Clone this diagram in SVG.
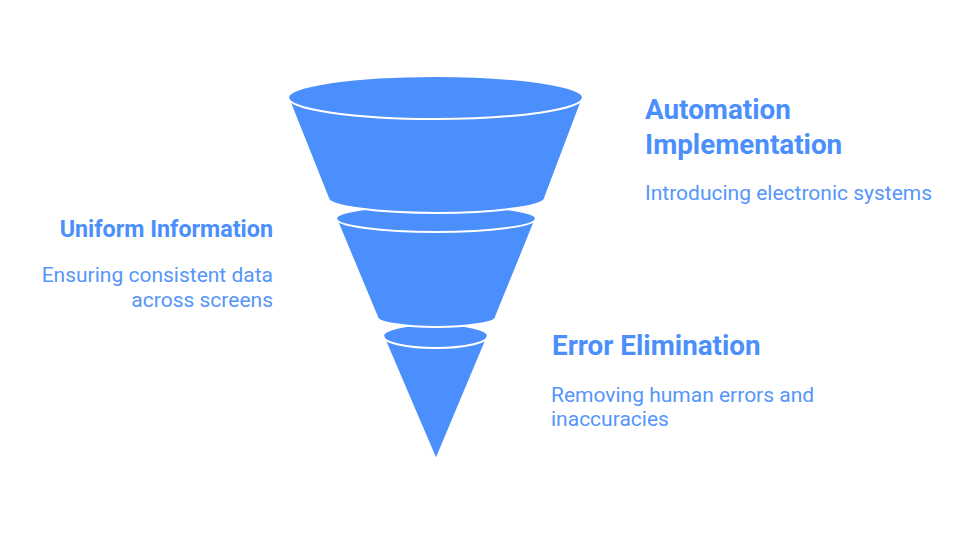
<svg xmlns="http://www.w3.org/2000/svg" width="975" height="539" viewBox="0 0 975 539">
<style>
.tier{fill:#4a8ffc;stroke:#ffffff;stroke-width:2;stroke-linejoin:round}
.edge{fill:none;stroke:#ffffff;stroke-width:2}
.title{font-family:Roboto,"Liberation Sans",sans-serif;font-weight:700;font-size:27.8px;fill:#4a8ffc}
.small{font-size:23.3px}
.desc{font-family:Roboto,"Liberation Sans",sans-serif;font-size:21px;fill:#5596fa}
</style>
<rect width="975" height="539" fill="#ffffff"/>
<g id="tier3">
<path class="tier" d="M383,336 L436,460 L488,336 A52.5,12 0 0 0 383,336 Z"/>
<path class="edge" d="M383,336 A52.5,12 0 0 0 488,336"/>
</g>
<g id="tier2">
<path class="tier" d="M336,218.5 L377,317 A59.5,10 0 0 0 496,317 L536,218.5 A100,13.5 0 0 0 336,218.5 Z"/>
<path class="edge" d="M336,218.5 A100,13.5 0 0 0 536,218.5"/>
</g>
<g id="tier1">
<path class="tier" d="M288,97.5 L328,198 A108.5,15 0 0 0 545,198 L583,97.5 A147.5,21.5 0 0 0 288,97.5 Z"/>
<path class="edge" d="M288,97.5 A147.5,21.5 0 0 0 583,97.5"/>
</g>
<g id="label-automation">
<text class="title" x="645" y="119">Automation</text>
<text class="title" x="645" y="154">Implementation</text>
<text class="desc" x="645" y="200">Introducing electronic systems</text>
</g>
<g id="label-uniform">
<text class="title small" x="273" y="237" text-anchor="end">Uniform Information</text>
<text class="desc" x="273" y="282" text-anchor="end">Ensuring consistent data</text>
<text class="desc" x="273" y="307" text-anchor="end">across screens</text>
</g>
<g id="label-error">
<text class="title" x="552" y="355">Error Elimination</text>
<text class="desc" x="551" y="402">Removing human errors and</text>
<text class="desc" x="551" y="426">inaccuracies</text>
</g>
</svg>
